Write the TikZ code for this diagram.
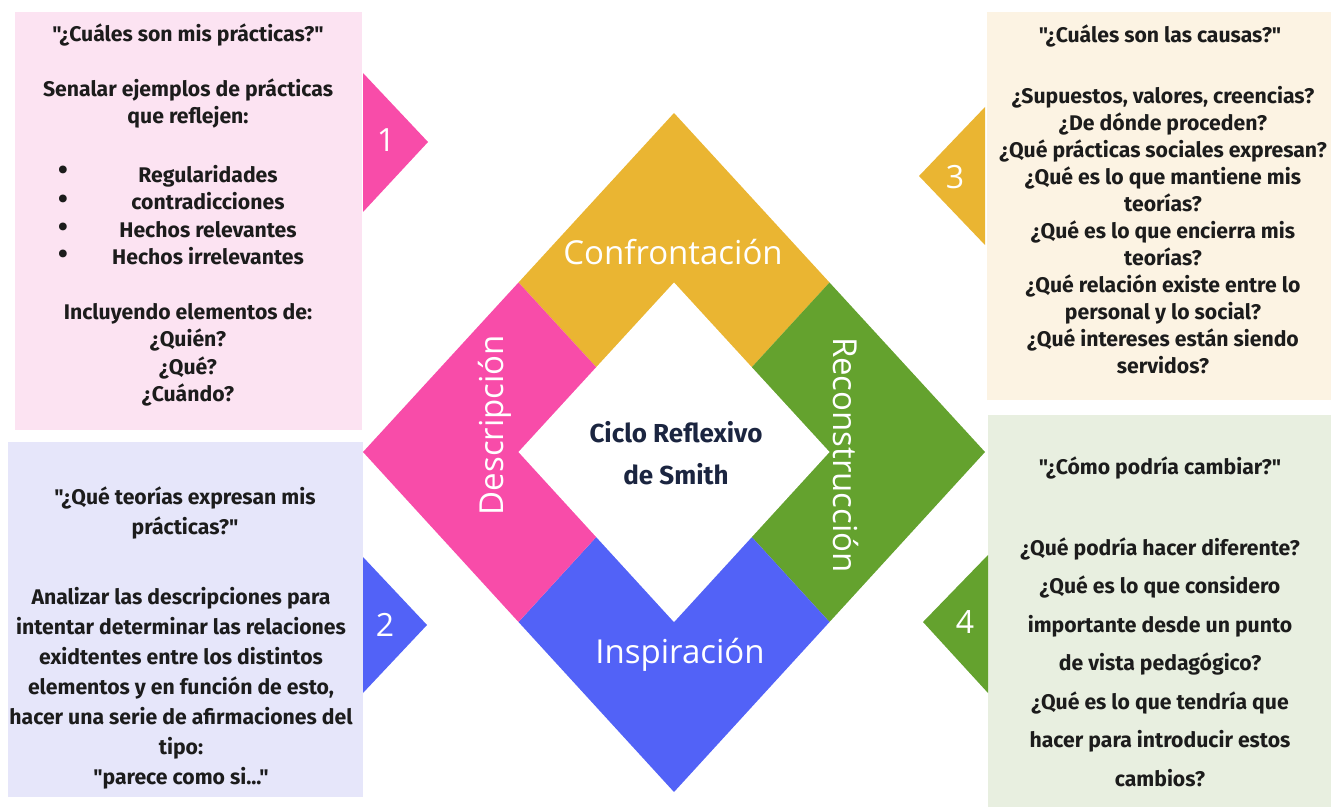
\documentclass[tikz,border=0pt]{standalone}
\usepackage{fontspec}
\setmainfont{Fira Sans}[Ligatures=TeXOff]
\newfontfamily\cyclefont{Open Sans}
\usetikzlibrary{calc}
\definecolor{descpink}{HTML}{F84CA9}
\definecolor{confyellow}{HTML}{EAB532}
\definecolor{recgreen}{HTML}{64A22E}
\definecolor{inspblue}{HTML}{5262F7}
\definecolor{pinkbox}{HTML}{FCE3F2}
\definecolor{bluebox}{HTML}{E6E6FA}
\definecolor{yellowbox}{HTML}{FCF3E3}
\definecolor{greenbox}{HTML}{E8EFE0}
\definecolor{inktext}{HTML}{1C1C1C}
\definecolor{navytext}{HTML}{1B2540}

\begin{document}
\begin{tikzpicture}[x=0.5pt,y=-0.5pt]
		\tikzset{boxtext/.style = {align=center, text=inktext, font=\bfseries\fontsize{10.6}{13.75}\selectfont}}
		\tikzset{bulletdot/.style = {text=inktext, font=\bfseries\fontsize{14}{14}\selectfont}}
		\tikzset{cyclelabel/.style = {text=white, font=\cyclefont\fontsize{16.5}{16.5}\selectfont}}
		\tikzset{tabnum/.style = {text=white, font=\cyclefont\fontsize{16}{16}\selectfont}}
		\useasboundingbox (0,0) rectangle (1331,807);
		% cuadros
		\fill[pinkbox] (15,12) rectangle (362,430);
		\fill[bluebox] (8,442) rectangle (363,797);
		\fill[yellowbox] (987,12) rectangle (1331,400);
		\fill[greenbox] (988,415) rectangle (1331,807);
		% pestanas numeradas
		\fill[descpink] (363,73) -- (428,142) -- (363,212) -- cycle;
		\fill[inspblue] (363,557) -- (427,625) -- (363,693) -- cycle;
		\fill[confyellow] (985,107) -- (919,176) -- (985,245) -- cycle;
		\fill[recgreen] (988,555) -- (923,622) -- (988,693) -- cycle;
		\node[tabnum] (n1) at (386,140) {1};
		\node[tabnum] (n2) at (385,625) {2};
		\node[tabnum] (n3) at (955,177) {3};
		\node[tabnum] (n4) at (965,622) {4};
		% diamante
		\coordinate (T) at (674,113);
		\coordinate (R) at (985,452);
		\coordinate (B) at (674,792);
		\coordinate (L) at (363,452);
		\coordinate (C) at (674,452);
		\fill[confyellow] (T) -- ($(T)!0.5!(R)$) -- (C) -- ($(T)!0.5!(L)$) -- cycle;
		\fill[recgreen] ($(T)!0.5!(R)$) -- (R) -- ($(R)!0.5!(B)$) -- (C) -- cycle;
		\fill[inspblue] (C) -- ($(R)!0.5!(B)$) -- (B) -- ($(B)!0.5!(L)$) -- cycle;
		\fill[descpink] ($(T)!0.5!(L)$) -- (C) -- ($(B)!0.5!(L)$) -- (L) -- cycle;
		\fill[white] ($(C)!0.5!(T)$) -- ($(C)!0.5!(R)$) -- ($(C)!0.5!(B)$) -- ($(C)!0.5!(L)$) -- cycle;
		\node[cyclelabel] (conf) at (673,252) {Confrontación};
		\node[cyclelabel] (insp) at (680,655) {Inspiración};
		\node[cyclelabel, rotate=90] (desc) at (495,425) {Descripción};
		\node[cyclelabel, rotate=-90] (reco) at (846,455) {Reconstrucción};
		\node[align=center, text=navytext, font=\bfseries\fontsize{13}{21}\selectfont] (ciclo) at (676,453) {Ciclo Reflexivo\\de Smith};
		% textos caja 1
		\node[boxtext] (q1top) at (188,76) {"¿Cuáles son mis prácticas?"\\[13.75pt]Senalar ejemplos de prácticas\\que reflejen:};
		\node[boxtext] (q1list) at (208,215) {Regularidades\\contradicciones\\Hechos relevantes\\Hechos irrelevantes};
		\node[bulletdot] (b1) at (63,173) {•};
		\node[bulletdot] (b2) at (63,202) {•};
		\node[bulletdot] (b3) at (63,230) {•};
		\node[bulletdot] (b4) at (63,257) {•};
		\node[boxtext] (q1end) at (188,355) {Incluyendo elementos de:\\¿Quién?\\¿Qué?\\¿Cuándo?};
		% textos caja 2
		\node[boxtext, font=\bfseries\fontsize{10.6}{15}\selectfont] (q2title) at (185,513) {"¿Qué teorías expresan mis\\prácticas?"};
		\node[boxtext, font=\bfseries\fontsize{10.6}{15}\selectfont] (q2body) at (181,688) {Analizar las descripciones para\\intentar determinar las relaciones\\exidtentes entre los distintos\\elementos y en función de esto,\\hacer una serie de afirmaciones del\\tipo:\\"parece como si..."};
		% textos caja 3
		\node[boxtext] (q3title) at (1160,36) {"¿Cuáles son las causas?"};
		\node[boxtext, font=\bfseries\fontsize{10.6}{13.5}\selectfont] (q3body) at (1163,230) {¿Supuestos, valores, creencias?\\¿De dónde proceden?\\¿Qué prácticas sociales expresan?\\¿Qué es lo que mantiene mis\\teorías?\\¿Qué es lo que encierra mis\\teorías?\\¿Qué relación existe entre lo\\personal y lo social?\\¿Qué intereses están siendo\\servidos?};
		% textos caja 4
		\node[boxtext] (q4title) at (1160,468) {"¿Cómo podría cambiar?"};
		\node[boxtext, font=\bfseries\fontsize{10.6}{19.25}\selectfont] (q4body) at (1160,662) {¿Qué podría hacer diferente?\\¿Qué es lo que considero\\importante desde un punto\\de vista pedagógico?\\¿Qué es lo que tendría que\\hacer para introducir estos\\cambios?};
	\end{tikzpicture}
\end{document}
